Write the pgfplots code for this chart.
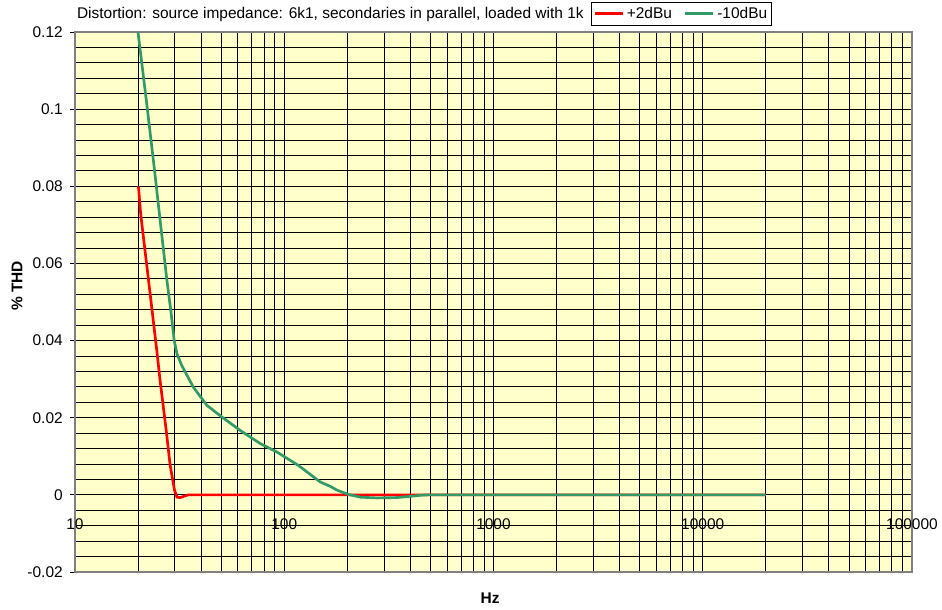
\documentclass[border=0pt]{standalone}
\usepackage{fontspec}
\setmainfont{Liberation Sans}
\usepackage{pgfplots}
\pgfplotsset{compat=1.18}
\definecolor{bg}{HTML}{FFFFCC}
\definecolor{grn}{HTML}{339966}
\begin{document}
\fontsize{11.6}{14}\selectfont
\begin{tikzpicture}
\path[use as bounding box] (-56.25pt,-28.5pt) rectangle (650.25pt,429pt);
\begin{axis}[
 at={(0,0)}, anchor=south west,
 width=627.75pt, height=405pt, scale only axis,
 xmode=log, xmin=10, xmax=100000, ymin=-0.02, ymax=0.12,
 xtick={10,100,1000,10000,100000}, xticklabels={10,100,1000,10000,100000},
 ytick={-0.02,0,0.02,0.04,0.06,0.08,0.1,0.12},
 yticklabels={-0.02,0,0.02,0.04,0.06,0.08,0.1,0.12},
 minor y tick num=4,
 grid=both,
 major grid style={black, line width=0.6pt},
 minor grid style={black, line width=0.6pt},
 axis line style={draw=gray, line width=1pt},
 axis background/.style={fill=bg},
 tick align=outside, ytick pos=left, xtick pos=bottom,
 xtick style={draw=none}, minor tick length=0pt, major tick length=3.75pt,
 ytick style={black, line width=0.6pt},
 xticklabel style={yshift=47.5pt},
 yticklabel style={xshift=-1.4pt},
 xlabel={\textbf{Hz}}, ylabel={\textbf{\% THD}},
 xlabel style={at={(axis description cs:0.496,-0.048)}, anchor=center},
 ylabel style={at={(axis description cs:-0.0693,0.53)}, anchor=center},
 every axis title shift=0pt,
 title={Distortion: source impedance: 6k1, secondaries in parallel, loaded with 1k},
 title style={at={(axis description cs:0.0021,1.0254)}, anchor=base west, inner sep=0pt},
 legend columns=2,
 legend style={at={(axis description cs:0.6165,1.056)}, anchor=north west, draw=black, line width=0.75pt, inner sep=1.5pt, font=\fontsize{11.6}{13}\selectfont,
   /tikz/every even column/.append style={column sep=7pt}},
 legend image code/.code={\draw[#1] (0pt,0pt) -- (21pt,0pt);},
]
\addplot[red, line width=2pt] coordinates {
(20.1,0.0800) (20.6,0.0728) (22,0.0598) (24.6,0.0374) (25.5,0.0297) (27.3,0.0166)
(28.5,0.0076) (29.9,0.0012) (30.7,-0.0006) (31.8,-0.0007) (33,-0.0004) (34.8,0)
(50,0) (100,0) (1000,0) (20000,0)};
\addlegendentry{+2dBu}
\addplot[grn, line width=2pt] coordinates {
(20,0.12) (22,0.1016) (24,0.0841) (25.5,0.0713) (27.5,0.0556) (28.7,0.0478)
(29.8,0.0400) (30.7,0.0366) (32.4,0.0335) (36.8,0.0279) (42.7,0.0232) (50.3,0.0202)
(61.6,0.0167) (76.8,0.0133) (92.3,0.0111) (117,0.0076) (149,0.0033) (166,0.0022)
(179,0.0012) (203,0.0001) (231,-0.0006) (278,-0.0008) (346,-0.0007) (416,-0.0003)
(450,-0.0001) (490,0) (1000,0) (5000,0) (20000,0)};
\addlegendentry{-10dBu}
\end{axis}
\end{tikzpicture}
\end{document}
